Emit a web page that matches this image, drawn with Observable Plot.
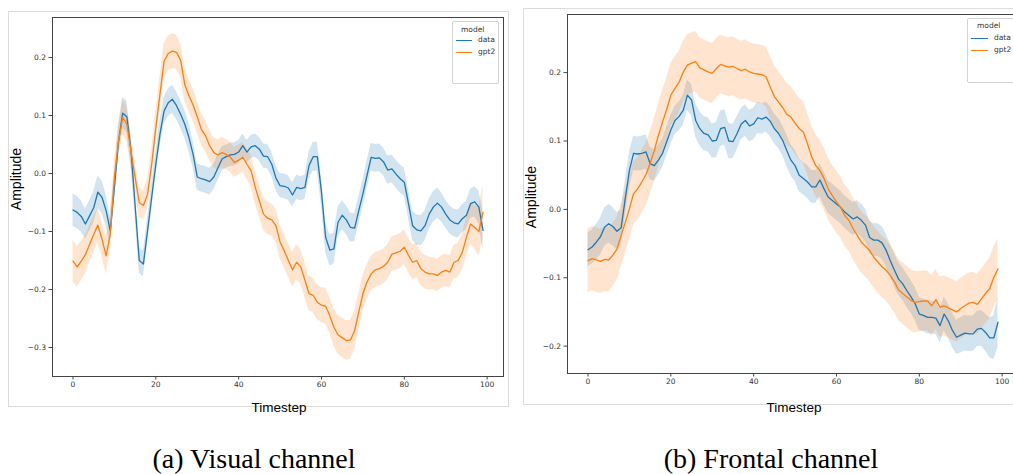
<!DOCTYPE html>
<html><head><meta charset="utf-8">
<script src="https://cdn.jsdelivr.net/npm/d3@7"></script>
<script src="https://cdn.jsdelivr.net/npm/@observablehq/plot@0.6"></script>
<style>
body{margin:0;background:#fff;}
#wrap{position:relative;width:1013px;height:474px;overflow:hidden;background:#fff;}
.panel{position:absolute;border:1px solid #dcdcdc;box-sizing:border-box;}
.chart{position:absolute;top:0;width:510px;height:420px;}
.chart svg{max-width:none !important;}
.ylab{position:absolute;font-family:"Liberation Sans",Arial,sans-serif;font-size:14px;color:#000;transform:translate(-50%,-50%) rotate(-90deg);white-space:nowrap;line-height:1;}
.xlab{position:absolute;font-family:"Liberation Sans",Arial,sans-serif;font-size:13.5px;color:#000;transform:translate(-50%,-50%);white-space:nowrap;line-height:1;}
.legend{position:absolute;border:1px solid #d4d4d4;border-radius:2px;background:rgba(255,255,255,0.85);font-family:"DejaVu Sans",sans-serif;font-size:7.5px;color:#333;box-sizing:border-box;}
.legend .t{position:absolute;line-height:1;transform:translateY(-50%);white-space:nowrap;}
.legend .sw{position:absolute;height:0;border-top:1.3px solid;}
.caption{position:absolute;font-family:"Liberation Serif","Times New Roman",serif;font-size:28px;line-height:1;color:#000;transform:translateX(-50%);white-space:nowrap;}
</style>
</head><body>
<div id="wrap">
  <div class="panel" style="left:8px;top:11px;width:501px;height:396px;"></div>
  <div class="panel" style="left:523px;top:8px;width:520px;height:397px;"></div>
  <div class="chart" id="left" style="left:0px;"></div>
  <div class="chart" id="right" style="left:515px;"></div>
  <div class="ylab" style="left:16px;top:179px;">Amplitude</div>
  <div class="ylab" style="left:531px;top:197px;">Amplitude</div>
  <div class="xlab" style="left:279px;top:408px;">Timestep</div>
  <div class="xlab" style="left:794px;top:408px;">Timestep</div>
  <div class="legend" id="legL" style="left:452px;top:21px;width:47px;height:63px;"></div>
  <div class="legend" id="legR" style="left:967px;top:18px;width:60px;height:65px;"></div>
  <div class="caption" style="left:254px;top:445px;">(a) Visual channel</div>
  <div class="caption" style="left:771px;top:445px;">(b) Frontal channel</div>
</div>
<script>
const models = ["data", "gpt2"];
const modelColors = ["#1f77b4", "#ff7f0e"];
const xTicks = [0, 20, 40, 60, 80, 100];
const visualYTicks = [-0.3, -0.2, -0.1, 0, 0.1, 0.2];
const frontalYTicks = [-0.2, -0.1, 0, 0.1, 0.2];

const visualData = [
-0.063,-0.067,-0.074,-0.087,-0.073,-0.059,-0.032,-0.041,-0.064,-0.099,
-0.024,0.056,0.104,0.098,0.040,-0.055,-0.150,-0.156,-0.099,-0.041,
0.016,0.068,0.108,0.122,0.128,0.117,0.102,0.085,0.062,0.033,
-0.006,-0.009,-0.011,-0.014,-0.006,0.010,0.025,0.029,0.032,0.033,
0.037,0.048,0.037,0.046,0.048,0.042,0.030,0.029,0.016,-0.008,
-0.021,-0.022,-0.025,-0.037,-0.024,-0.026,-0.024,0.014,0.029,0.029,
-0.032,-0.110,-0.132,-0.130,-0.084,-0.072,-0.080,-0.093,-0.094,-0.064,
-0.035,-0.003,0.028,0.026,0.027,0.020,0.006,0.008,-0.001,-0.009,
-0.015,-0.052,-0.090,-0.097,-0.099,-0.090,-0.070,-0.058,-0.051,-0.058,
-0.070,-0.080,-0.085,-0.087,-0.078,-0.072,-0.052,-0.049,-0.058,-0.098];
const visualDataBand = [
0.028,0.028,0.027,0.026,0.026,0.027,0.028,0.028,0.027,0.025,
0.022,0.024,0.027,0.027,0.025,0.022,0.022,0.022,0.022,0.022,
0.022,0.023,0.023,0.024,0.024,0.024,0.024,0.024,0.024,0.023,
0.023,0.023,0.023,0.023,0.022,0.022,0.021,0.020,0.020,0.020,
0.020,0.020,0.020,0.020,0.020,0.020,0.021,0.021,0.021,0.021,
0.021,0.021,0.021,0.021,0.021,0.021,0.021,0.023,0.025,0.025,
0.025,0.026,0.027,0.027,0.026,0.025,0.025,0.025,0.024,0.024,
0.024,0.024,0.024,0.024,0.024,0.024,0.024,0.024,0.024,0.024,
0.024,0.025,0.025,0.026,0.026,0.026,0.026,0.026,0.026,0.025,
0.024,0.024,0.024,0.024,0.024,0.024,0.025,0.026,0.028,0.034];
const visualGpt2 = [
-0.151,-0.161,-0.151,-0.140,-0.122,-0.105,-0.089,-0.113,-0.142,-0.105,
-0.007,0.056,0.097,0.085,0.039,-0.007,-0.050,-0.055,-0.036,0.016,
0.079,0.137,0.194,0.207,0.211,0.209,0.195,0.153,0.134,0.118,
0.098,0.076,0.065,0.048,0.036,0.032,0.036,0.033,0.028,0.019,
0.023,0.028,0.016,0.005,-0.024,-0.047,-0.070,-0.077,-0.080,-0.090,
-0.118,-0.133,-0.150,-0.166,-0.153,-0.161,-0.184,-0.207,-0.210,-0.222,
-0.227,-0.229,-0.245,-0.265,-0.278,-0.283,-0.288,-0.287,-0.271,-0.239,
-0.207,-0.187,-0.173,-0.166,-0.164,-0.160,-0.153,-0.139,-0.137,-0.134,
-0.127,-0.141,-0.153,-0.150,-0.164,-0.170,-0.173,-0.173,-0.176,-0.170,
-0.167,-0.170,-0.153,-0.150,-0.136,-0.110,-0.087,-0.093,-0.100,-0.067];
const visualGpt2Band = [
0.036,0.035,0.034,0.033,0.032,0.031,0.030,0.030,0.032,0.030,
0.028,0.030,0.030,0.030,0.028,0.027,0.026,0.025,0.025,0.026,
0.028,0.029,0.030,0.030,0.030,0.030,0.030,0.029,0.028,0.028,
0.028,0.027,0.027,0.026,0.026,0.026,0.026,0.026,0.026,0.026,
0.026,0.026,0.026,0.027,0.028,0.028,0.028,0.028,0.028,0.029,
0.029,0.029,0.029,0.030,0.030,0.030,0.030,0.030,0.030,0.030,
0.030,0.031,0.031,0.032,0.033,0.034,0.034,0.034,0.033,0.032,
0.031,0.030,0.030,0.030,0.030,0.030,0.030,0.030,0.030,0.030,
0.030,0.030,0.030,0.030,0.029,0.029,0.028,0.028,0.028,0.028,
0.028,0.028,0.029,0.030,0.031,0.033,0.035,0.038,0.042,0.048];

const frontalData = [
-0.059,-0.055,-0.048,-0.040,-0.026,-0.021,-0.025,-0.032,-0.027,0.016,
0.057,0.082,0.081,0.082,0.084,0.067,0.064,0.072,0.082,0.099,
0.116,0.130,0.136,0.145,0.167,0.160,0.130,0.118,0.111,0.109,
0.100,0.101,0.118,0.120,0.100,0.099,0.111,0.125,0.130,0.122,
0.125,0.134,0.132,0.135,0.129,0.118,0.111,0.101,0.086,0.072,
0.064,0.050,0.045,0.040,0.033,0.033,0.043,0.030,0.018,0.013,
0.008,0.003,-0.004,-0.009,-0.014,-0.011,-0.016,-0.023,-0.041,-0.045,
-0.045,-0.049,-0.060,-0.075,-0.089,-0.102,-0.109,-0.119,-0.128,-0.138,
-0.153,-0.155,-0.158,-0.158,-0.159,-0.170,-0.153,-0.163,-0.177,-0.187,
-0.184,-0.181,-0.182,-0.182,-0.175,-0.174,-0.180,-0.188,-0.188,-0.165];
const frontalDataBand = [
0.025,0.025,0.026,0.027,0.028,0.028,0.028,0.027,0.026,0.026,
0.026,0.025,0.025,0.025,0.025,0.024,0.023,0.022,0.021,0.021,
0.021,0.021,0.021,0.022,0.022,0.023,0.024,0.025,0.025,0.025,
0.025,0.026,0.026,0.026,0.026,0.025,0.024,0.023,0.023,0.023,
0.023,0.023,0.022,0.022,0.022,0.022,0.022,0.022,0.023,0.023,
0.023,0.024,0.024,0.024,0.024,0.024,0.024,0.024,0.024,0.024,
0.024,0.024,0.024,0.024,0.024,0.024,0.024,0.024,0.024,0.024,
0.024,0.024,0.024,0.024,0.024,0.024,0.024,0.024,0.024,0.024,
0.024,0.024,0.024,0.024,0.024,0.025,0.025,0.025,0.025,0.025,
0.026,0.026,0.026,0.026,0.026,0.026,0.027,0.029,0.032,0.037];
const frontalGpt2 = [
-0.075,-0.072,-0.074,-0.076,-0.073,-0.074,-0.067,-0.058,-0.038,-0.019,
0.001,0.023,0.030,0.040,0.051,0.067,0.086,0.108,0.128,0.146,
0.167,0.177,0.186,0.201,0.211,0.214,0.216,0.207,0.204,0.201,
0.199,0.206,0.212,0.210,0.208,0.209,0.206,0.203,0.205,0.201,
0.199,0.198,0.197,0.194,0.179,0.165,0.157,0.149,0.139,0.135,
0.126,0.118,0.113,0.096,0.077,0.064,0.057,0.045,0.030,0.020,
0.011,0.003,-0.009,-0.016,-0.028,-0.038,-0.048,-0.054,-0.060,-0.070,
-0.077,-0.084,-0.089,-0.097,-0.106,-0.118,-0.123,-0.128,-0.133,-0.136,
-0.135,-0.134,-0.134,-0.141,-0.132,-0.143,-0.141,-0.144,-0.147,-0.150,
-0.145,-0.141,-0.137,-0.136,-0.139,-0.131,-0.123,-0.116,-0.099,-0.087];
const frontalGpt2Band = [
0.047,0.047,0.047,0.047,0.047,0.047,0.046,0.046,0.046,0.046,
0.046,0.046,0.046,0.046,0.046,0.046,0.046,0.046,0.046,0.046,
0.046,0.046,0.045,0.045,0.044,0.044,0.044,0.044,0.044,0.044,
0.044,0.044,0.043,0.043,0.043,0.043,0.043,0.043,0.043,0.043,
0.043,0.043,0.043,0.044,0.045,0.045,0.045,0.045,0.045,0.045,
0.045,0.045,0.045,0.045,0.045,0.045,0.045,0.045,0.045,0.045,
0.045,0.045,0.045,0.045,0.045,0.045,0.045,0.045,0.045,0.045,
0.045,0.045,0.045,0.045,0.045,0.045,0.045,0.045,0.045,0.045,
0.044,0.044,0.044,0.044,0.044,0.044,0.044,0.044,0.044,0.044,
0.044,0.044,0.044,0.044,0.044,0.044,0.044,0.044,0.044,0.044];

function buildRows(series) {
  const rows = [];
  series.forEach(([model, values, band]) => {
    values.forEach((v, i) => rows.push({t: i, model, v, lo: v - band[i], hi: v + band[i]}));
  });
  return rows;
}
const fmtY = d => d.toFixed(1).replace("-", "\u2212");

function makeChart(rows, yDomain, yTicks, marginTop, marginBottom) {
  return Plot.plot({
    width: 510, height: 420,
    marginLeft: 52, marginRight: 7, marginTop, marginBottom,
    style: {background: "transparent", fontFamily: "DejaVu Sans, sans-serif", fontSize: "7.5px", color: "#333", overflow: "visible", maxWidth: "none"},
    x: {domain: [-4.95, 103.95]},
    y: {domain: yDomain},
    color: {domain: models, range: modelColors},
    marks: [
      Plot.areaY(rows, {x: "t", y1: "lo", y2: "hi", fill: "model", z: "model", fillOpacity: 0.2}),
      Plot.lineY(rows, {x: "t", y: "v", stroke: "model", z: "model", strokeWidth: 1.3}),
      Plot.frame({stroke: "#444", strokeWidth: 1}),
      Plot.axisX({ticks: xTicks, tickSize: 3.5, tickPadding: 2, label: null, tickFormat: d => String(d), stroke: "#444"}),
      Plot.axisY({ticks: yTicks, tickSize: 3.5, tickPadding: 3, label: null, tickFormat: fmtY, stroke: "#444"})
    ]
  });
}

document.getElementById("left").appendChild(makeChart(
  buildRows([["data", visualData, visualDataBand], ["gpt2", visualGpt2, visualGpt2Band]]),
  [-0.35, 0.269], visualYTicks, 17, 44));
document.getElementById("right").appendChild(makeChart(
  buildRows([["data", frontalData, frontalDataBand], ["gpt2", frontalGpt2, frontalGpt2Band]]),
  [-0.240, 0.285], frontalYTicks, 14, 47));

function fillLegend(el, titleX, titleY, lineX, lineW, textX, rowY, rowGap) {
  const t = document.createElement("div");
  t.className = "t"; t.textContent = "model";
  t.style.left = titleX + "px"; t.style.top = titleY + "px";
  el.appendChild(t);
  models.forEach((m, i) => {
    const y = rowY + i * rowGap;
    const sw = document.createElement("div");
    sw.className = "sw";
    sw.style.left = lineX + "px"; sw.style.width = lineW + "px"; sw.style.top = y + "px";
    sw.style.borderTopColor = modelColors[i];
    el.appendChild(sw);
    const lab = document.createElement("div");
    lab.className = "t"; lab.textContent = m;
    lab.style.left = textX + "px"; lab.style.top = y + "px";
    el.appendChild(lab);
  });
}
fillLegend(document.getElementById("legL"), 8, 7.5, 3, 16, 25, 18, 12);
fillLegend(document.getElementById("legR"), 9, 7, 3, 17, 26, 19, 12);
</script>
</body></html>
